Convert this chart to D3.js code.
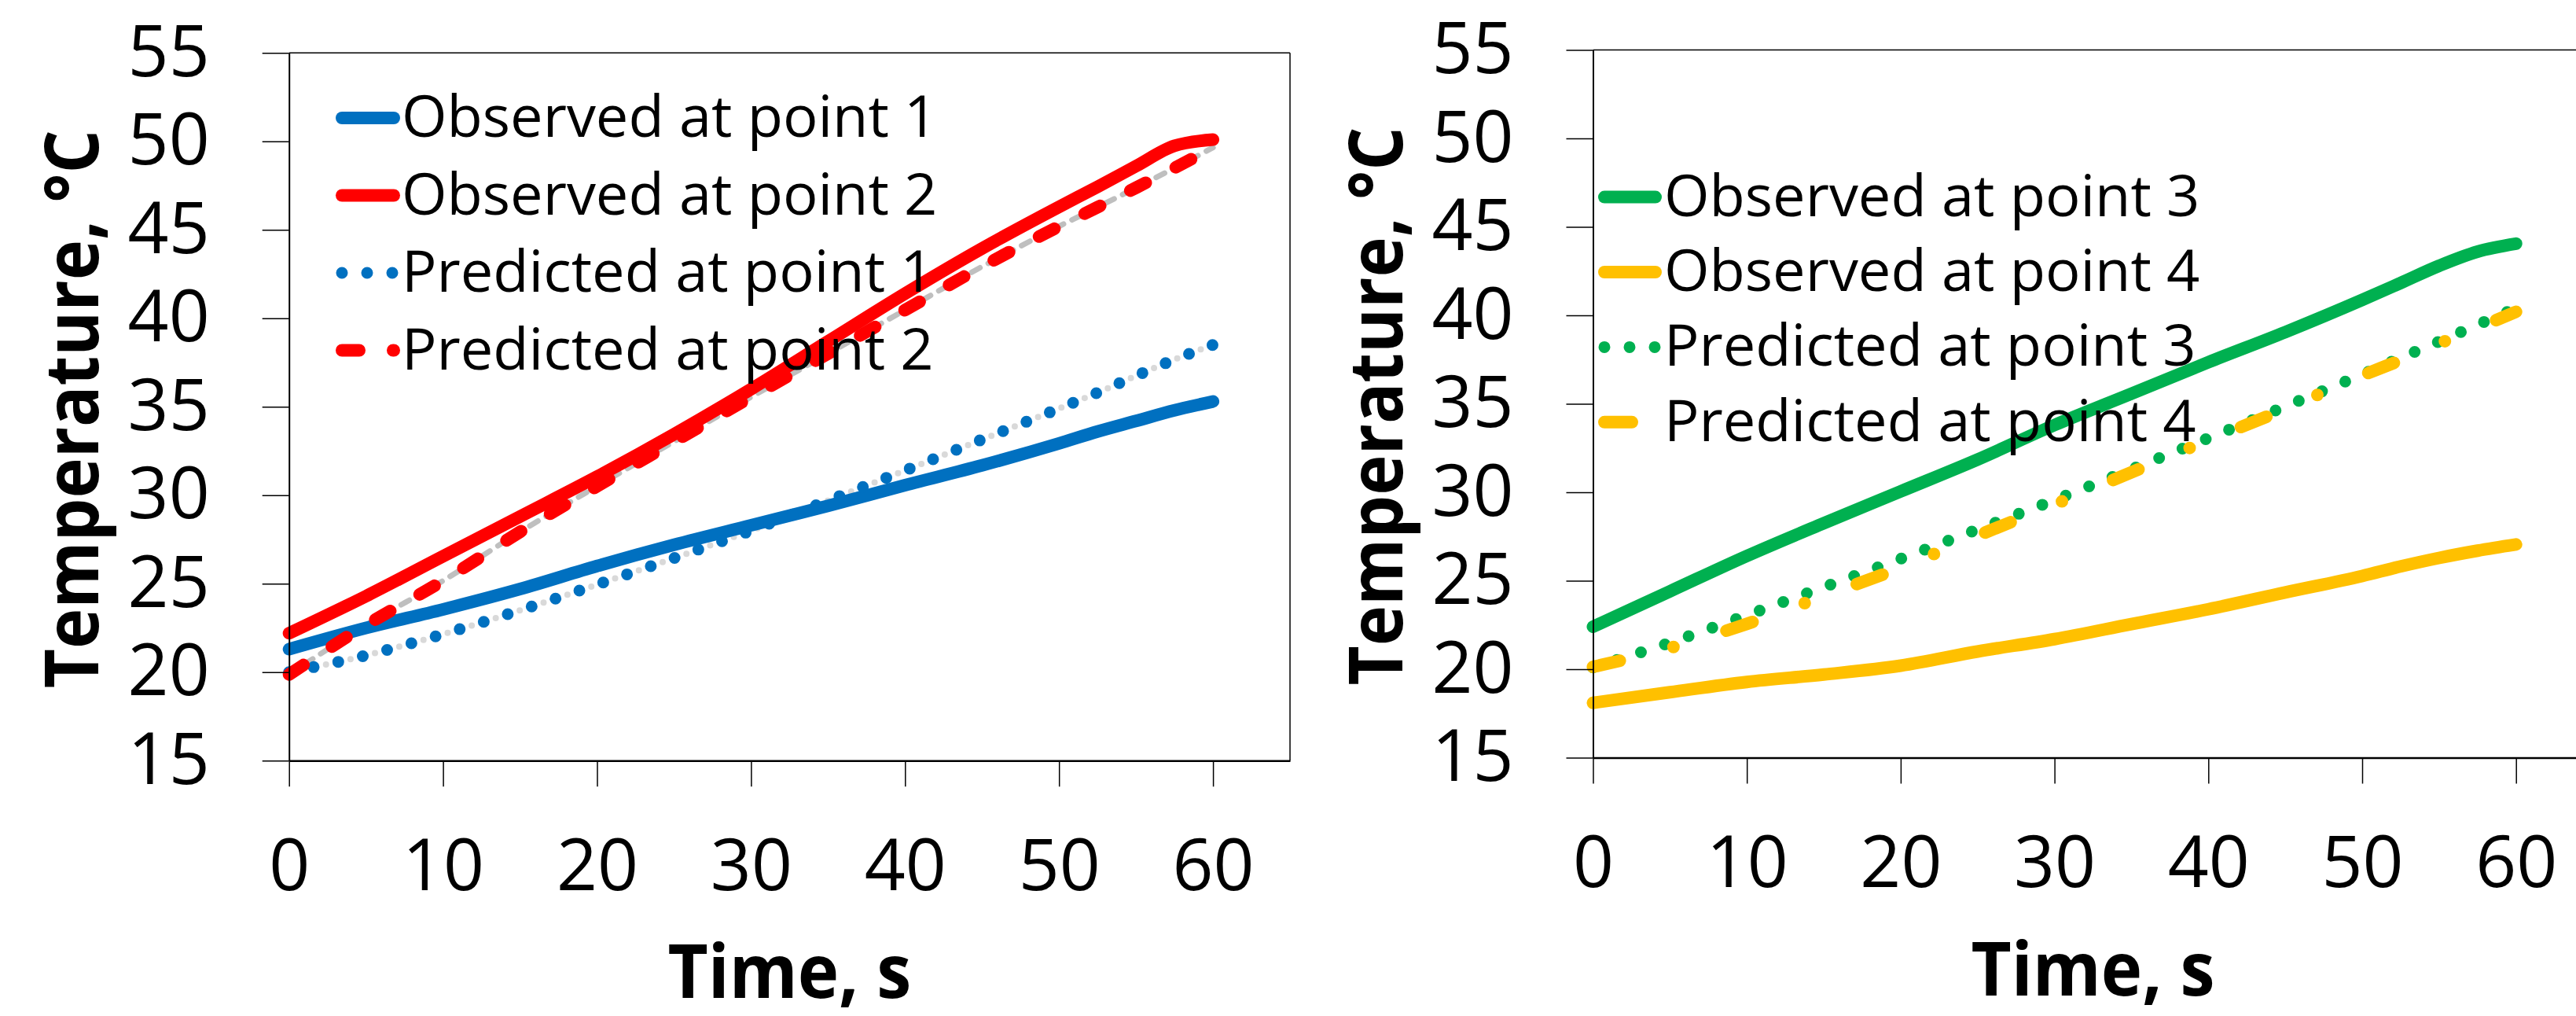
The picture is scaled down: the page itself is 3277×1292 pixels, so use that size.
<!DOCTYPE html>
<html>
<head>
<meta charset="utf-8">
<script src="https://cdn.jsdelivr.net/npm/d3@7"></script>
<style>
body { margin: 0; background: #fff; }
svg { display: block; font-family: "Open Sans", sans-serif; }
</style>
</head>
<body>
<svg id="chart" width="3277" height="1292"></svg>
<script>

//Sampling times (s) shared by every series
var time = [0, 5, 10, 15, 20, 25, 30, 35, 40, 45, 50, 52.5, 55, 57.5, 60];

//Left panel, points 1 and 2
var observed1  = [21.3, 22.5, 23.55, 24.7, 26.0, 27.2, 28.3, 29.4, 30.57, 31.69, 32.93, 33.6, 34.2, 34.8, 35.3];
var observed2  = [22.2, 24.3, 26.55, 28.8, 31.05, 33.45, 36.0, 38.7, 41.4, 43.95, 46.3, 47.43, 48.6, 49.75, 50.1];
var predicted1 = [20.0, 20.95, 22.15, 23.5, 24.95, 26.45, 28.0, 29.7, 31.4, 33.15, 34.9, 35.8, 36.75, 37.67, 38.5];
var predicted2 = [19.87, 22.66, 25.17, 27.93, 30.51, 33.03, 35.55, 38.0, 40.47, 42.92, 45.2, 46.28, 47.38, 48.5, 49.65];

//Right panel, points 3 and 4
var observed3  = [22.4, 24.4, 26.4, 28.25, 30.05, 31.85, 33.8, 35.57, 37.35, 39.05, 40.87, 41.83, 42.8, 43.6, 44.05];
var observed4  = [18.1, 18.7, 19.28, 19.7, 20.2, 21.0, 21.7, 22.55, 23.39, 24.34, 25.27, 25.81, 26.29, 26.7, 27.05];
var predicted3 = [20.1, 21.5, 23.05, 24.64, 26.24, 27.9, 29.56, 31.3, 33.06, 34.85, 36.66, 37.6, 38.52, 39.47, 40.4];
var predicted4 = [20.13, 21.2, 22.56, 24.13, 25.74, 27.55, 29.31, 31.13, 32.94, 34.71, 36.6, 37.47, 38.4, 39.29, 40.2];

//Axes
var xDomain = [0, 65];
var yDomain = [15, 55];
var xTicks = [0, 10, 20, 30, 40, 50, 60];
var yTicks = [15, 20, 25, 30, 35, 40, 45, 50, 55];
var xTitle = "Time, s";
var yTitle = "Temperature, °C";

//Legend texts
var labelsLeft  = ["Observed at point 1", "Observed at point 2", "Predicted at point 1", "Predicted at point 2"];
var labelsRight = ["Observed at point 3", "Observed at point 4", "Predicted at point 3", "Predicted at point 4"];

//Line styles (Excel-like)
var lineStyles = {
    solid:    {width: 16, dash: null},
    dotted:   {width: 15, dash: "0,32"},
    dashed:   {width: 16, dash: "22,43"},
    longdash: {width: 16, dash: "35,70.5,0,70.5"}
};

var panels = [
    {left: 367.7, bottom: 967.3, unitX: 19.59,
     legendX: [435, 501], legendText: 511, legendBase: 174, legendStep: 98.5,
     underlay: [{values: predicted1, color: "#d9d9d9", width: 8, dash: "0,32", offset: -16},
                {values: predicted2, color: "#bfbfbf", width: 7, dash: "12,12", offset: 0}],
     series: [{name: labelsLeft[0], values: observed1,  color: "#0070c0", style: "solid"},
              {name: labelsLeft[1], values: observed2,  color: "#ff0000", style: "solid"},
              {name: labelsLeft[2], values: predicted1, color: "#0070c0", style: "dotted"},
              {name: labelsLeft[3], values: predicted2, color: "#ff0000", style: "dashed"}]},
    {left: 2026.5, bottom: 963.5, unitX: 19.57,
     legendX: [2041, 2106], legendText: 2117, legendBase: 274.6, legendStep: 95.4,
     underlay: [],
     series: [{name: labelsRight[0], values: observed3,  color: "#00b050", style: "solid"},
              {name: labelsRight[1], values: observed4,  color: "#ffc000", style: "solid"},
              {name: labelsRight[2], values: predicted3, color: "#00b050", style: "dotted"},
              {name: labelsRight[3], values: predicted4, color: "#ffc000", style: "longdash"}]}
];

var svg = d3.select("#chart");


//Draw one chart panel
function drawPanel(panel) {

    var x = d3.scaleLinear().domain(xDomain)
              .range([panel.left, panel.left + (xDomain[1] - xDomain[0]) * panel.unitX]);
    var y = d3.scaleLinear().domain(yDomain)
              .range([panel.bottom, panel.bottom - (yDomain[1] - yDomain[0]) * 22.5]);

    var g = svg.append("g");

    var line = d3.line()
                 .x(function(d) { return x(d[0]); })
                 .y(function(d) { return y(d[1]); })
                 .curve(d3.curveMonotoneX);

    //Top and right border of the plot area
    g.append("line")
     .attr("x1", x(xDomain[0])).attr("x2", x(xDomain[1]))
     .attr("y1", y(yDomain[1])).attr("y2", y(yDomain[1]))
     .attr("stroke", "#000").attr("stroke-width", 1.5);
    g.append("line")
     .attr("x1", x(xDomain[1])).attr("x2", x(xDomain[1]))
     .attr("y1", y(yDomain[1])).attr("y2", y(yDomain[0]))
     .attr("stroke", "#000").attr("stroke-width", 1.5);

    //Grey guide lines under the predictions
    panel.underlay.forEach(function(u) {
        g.append("path")
         .datum(d3.zip(time, u.values))
         .attr("d", line)
         .attr("fill", "none")
         .attr("stroke", u.color)
         .attr("stroke-width", u.width)
         .attr("stroke-linecap", "round")
         .attr("stroke-dasharray", u.dash)
         .attr("stroke-dashoffset", u.offset);
    });

    //Series
    panel.series.forEach(function(s) {
        var st = lineStyles[s.style];
        g.append("path")
         .datum(d3.zip(time, s.values))
         .attr("d", line)
         .attr("fill", "none")
         .attr("stroke", s.color)
         .attr("stroke-width", st.width)
         .attr("stroke-linecap", "round")
         .attr("stroke-linejoin", "round")
         .attr("stroke-dasharray", st.dash);
    });

    //Axes
    var yAxis = d3.axisLeft(y).tickValues(yTicks).tickSize(34).tickPadding(67).tickSizeOuter(0);
    var xAxis = d3.axisBottom(x).tickValues(xTicks).tickSize(33).tickPadding(67).tickSizeOuter(0);

    g.append("g")
     .attr("transform", "translate(" + x(xDomain[0]) + ",0)")
     .call(yAxis)
     .attr("font-size", 91)
     .attr("font-family", "'Open Sans', sans-serif")
     .call(function(a) { a.select(".domain").attr("stroke-width", 2); })
     .call(function(a) { a.selectAll(".tick line").attr("stroke-width", 1.5); });

    g.append("g")
     .attr("transform", "translate(0," + y(yDomain[0]) + ")")
     .call(xAxis)
     .attr("font-size", 91)
     .attr("font-family", "'Open Sans', sans-serif")
     .call(function(a) { a.select(".domain").attr("stroke-width", 2.5); })
     .call(function(a) { a.selectAll(".tick line").attr("stroke-width", 1.5); });

    //Axis titles
    g.append("text")
     .attr("transform", "translate(" + (x(xDomain[0]) - 243) + "," + ((y(yDomain[0]) + y(yDomain[1])) / 2 + 3) + ") rotate(-90)")
     .attr("text-anchor", "middle")
     .attr("font-weight", "bold")
     .attr("font-size", 95)
     .attr("textLength", 710)
     .attr("lengthAdjust", "spacingAndGlyphs")
     .text(yTitle);

    g.append("text")
     .attr("x", (x(xDomain[0]) + x(xDomain[1])) / 2)
     .attr("y", y(yDomain[0]) + 302)
     .attr("text-anchor", "middle")
     .attr("font-weight", "bold")
     .attr("font-size", 95)
     .attr("textLength", 310)
     .attr("lengthAdjust", "spacingAndGlyphs")
     .text(xTitle);

    //Legend
    var lg = g.append("g");
    panel.series.forEach(function(s, i) {
        var st = lineStyles[s.style];
        var base = panel.legendBase + i * panel.legendStep;

        lg.append("line")
          .attr("x1", panel.legendX[0]).attr("x2", panel.legendX[1])
          .attr("y1", base - 24).attr("y2", base - 24)
          .attr("stroke", s.color)
          .attr("stroke-width", st.width)
          .attr("stroke-linecap", "round")
          .attr("stroke-dasharray", st.dash);

        lg.append("text")
          .attr("x", panel.legendText)
          .attr("y", base)
          .attr("font-size", 74)
          .attr("fill", "#000")
          .text(s.name);
    });
}

panels.forEach(drawPanel);

</script>
</body>
</html>
